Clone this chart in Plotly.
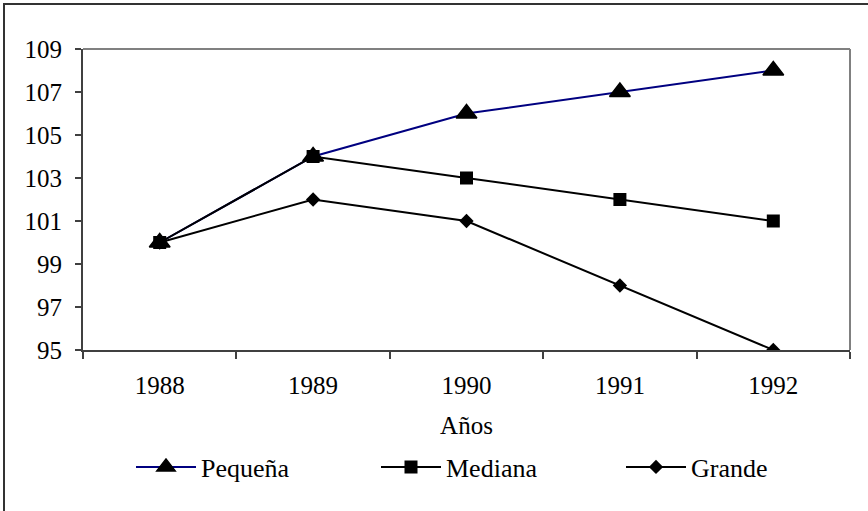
import plotly.graph_objects as go

years = ["1988", "1989", "1990", "1991", "1992"]
pequena = [100, 104, 106, 107, 108]
mediana = [100, 104, 103, 102, 101]
grande = [100, 102, 101, 98, 95]
y_ticks = [95, 97, 99, 101, 103, 105, 107, 109]

FONT = "Liberation Serif"
W, H = 868, 511
L, R, T, B = 83, 18, 49, 161
pw = W - L - R
ph = H - T - B

def px_x(p):
    return (p - L) / pw

def px_y(p):
    return (H - B - p) / ph

fig = go.Figure()
fig.add_trace(go.Scatter(
    x=years, y=pequena, name="Pequeña", mode="lines+markers",
    line=dict(color="#000080", width=2),
    marker=dict(symbol="triangle-up", size=18, color="black",
                line=dict(color="black", width=1.5)),
))
fig.add_trace(go.Scatter(
    x=years, y=mediana, name="Mediana", mode="lines+markers",
    line=dict(color="black", width=2),
    marker=dict(symbol="square", size=13, color="black"),
))
fig.add_trace(go.Scatter(
    x=years, y=grande, name="Grande", mode="lines+markers",
    line=dict(color="black", width=2),
    marker=dict(symbol="diamond", size=11, color="black"),
))

axis_col = "#404040"
fig.update_layout(
    width=W, height=H,
    margin=dict(l=L, r=R, t=T, b=B, pad=0, autoexpand=False),
    paper_bgcolor="white", plot_bgcolor="white",
    font=dict(family=FONT, size=25, color="black"),
    showlegend=True,
    legend=dict(
        orientation="h", x=px_x(866), xanchor="right",
        y=px_y(467), yanchor="middle",
        font=dict(family=FONT, size=26, color="black"),
        itemwidth=60, entrywidth=170, bgcolor="rgba(0,0,0,0)",
        traceorder="normal",
    ),
    xaxis=dict(
        type="category", range=[-0.5, 4.5],
        tickson="boundaries", ticks="outside", ticklen=7, tickwidth=1.5,
        tickcolor=axis_col, showline=True, linecolor=axis_col, linewidth=2,
        showgrid=False, zeroline=False,
        tickfont=dict(family=FONT, size=25), ticklabelstandoff=12,
        title=dict(text="Años", font=dict(family=FONT, size=25), standoff=18),
    ),
    yaxis=dict(
        range=[95, 109], tickvals=y_ticks, ticks="outside", ticklen=6,
        tickwidth=1.5, tickcolor=axis_col, showline=True, linecolor=axis_col,
        linewidth=2, showgrid=False, zeroline=False,
        tickfont=dict(family=FONT, size=25), ticklabelstandoff=8,
    ),
    shapes=[
        dict(type="line", xref="paper", yref="paper", x0=0, x1=1, y0=1, y1=1,
             line=dict(color="#808080", width=2)),
        dict(type="line", xref="paper", yref="paper", x0=1, x1=1, y0=0, y1=1,
             line=dict(color="#808080", width=2)),
        dict(type="rect", xref="paper", yref="paper",
             x0=px_x(4), x1=px_x(W + 10), y0=px_y(H + 10), y1=px_y(4),
             line=dict(color="#333333", width=2), fillcolor="rgba(0,0,0,0)",
             layer="below"),
    ],
)

fig.write_html(
    "out.html",
    config={"displayModeBar": False},
    post_script="document.body.style.margin='0';document.body.style.overflow='hidden';",
)
